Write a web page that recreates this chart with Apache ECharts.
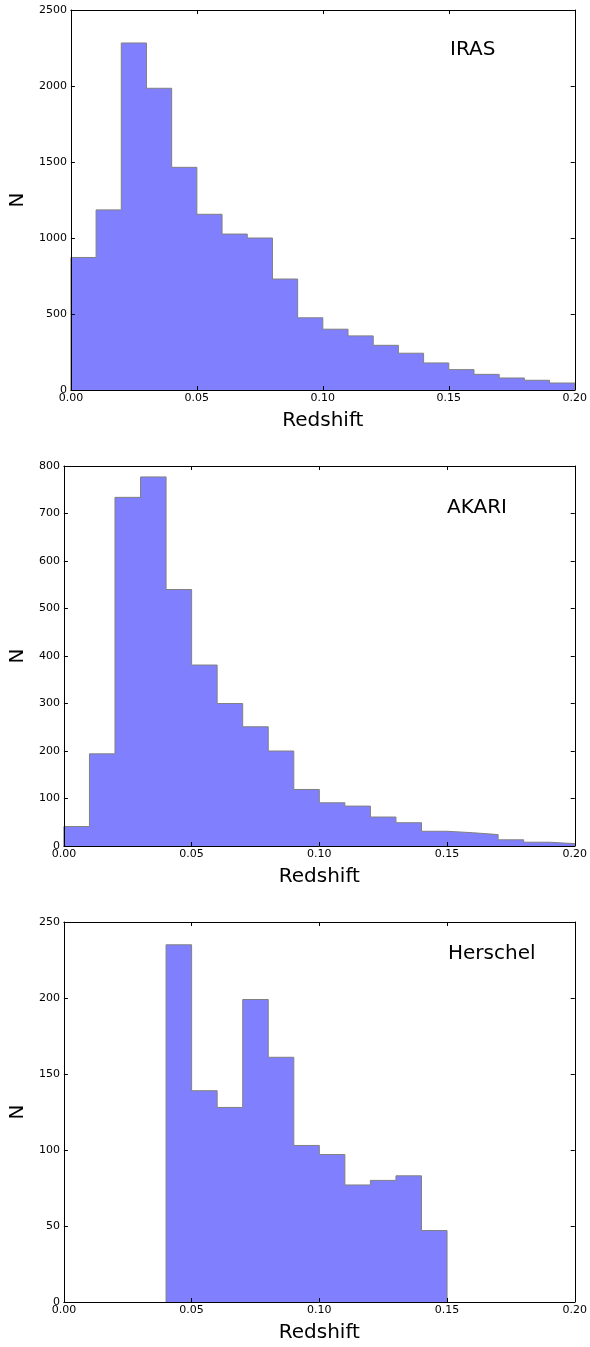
<!DOCTYPE html>
<html>
<head>
<meta charset="utf-8">
<title>Redshift distributions</title>
<script src="https://cdn.jsdelivr.net/npm/echarts@6/dist/echarts.min.js"></script>
<style>
  html, body { margin: 0; padding: 0; background: #ffffff; }
  #chart { width: 590px; height: 1347px; }
</style>
</head>
<body>
<div id="chart"></div>
<script>
// Bin edges shared by all three histograms (redshift, width 0.01)
const binEdges = [0.00, 0.01, 0.02, 0.03, 0.04, 0.05, 0.06, 0.07, 0.08, 0.09, 0.10,
                  0.11, 0.12, 0.13, 0.14, 0.15, 0.16, 0.17, 0.18, 0.19, 0.20];

// Counts per bin
const irasCounts = [872, 1185, 2283, 1985, 1465, 1156, 1026, 1000, 730, 475,
                    400, 356, 294, 242, 178, 134, 103, 79, 64, 46];
const akariCounts = [41, 194, 734, 777, 540, 381, 300, 251, 200, 119,
                     91, 84, 61, 49, 31, 28, 24, 13, 8, 5];
const herschelCounts = [0, 0, 0, 0, 235, 139, 128, 199, 161, 103,
                        97, 77, 80, 83, 47, 0, 0, 0, 0, 0];

const surveyNames = ['IRAS', 'AKARI', 'Herschel'];

// Y axis ranges and tick steps
const yMax = [2500, 800, 250];
const yStep = [500, 100, 50];

const FONT = 'DejaVu Sans';

// Convert histogram counts to a stepfilled outline (matplotlib 'stepfilled')
function stepOutline(counts) {
  const first = counts.findIndex(v => v > 0);
  let last = counts.length - 1;
  while (last >= 0 && counts[last] <= 0) last--;
  const pts = [[binEdges[first], 0]];
  for (let i = first; i <= last; i++) {
    pts.push([binEdges[i], counts[i]]);
  }
  pts.push([binEdges[last + 1], counts[last]]);
  pts.push([binEdges[last + 1], 0]);
  return pts;
}

const grids = [
  { left: 70, top: 10, width: 506, height: 380 },
  { left: 62, top: 466, width: 514, height: 380 },
  { left: 62, top: 922, width: 514, height: 380 }
];
const titlePos = [[450, 50], [447, 508], [448, 954]];
const allCounts = [irasCounts, akariCounts, herschelCounts];

const xAxes = [], yAxes = [], series = [], graphics = [];

grids.forEach((g, i) => {
  const common = {
    type: 'value', gridIndex: i, min: 0, max: 0.2, interval: 0.05, z: 5,
    axisLine: { show: true, onZero: false, lineStyle: { color: '#000', width: 1 } },
    axisTick: { show: true, inside: true, length: 4, lineStyle: { color: '#000', width: 1 } },
    splitLine: { show: false }
  };
  xAxes.push(Object.assign({}, common, {
    position: 'bottom',
    name: 'Redshift', nameLocation: 'middle', nameGap: 21,
    nameTextStyle: { fontFamily: FONT, fontSize: 20, color: '#000' },
    axisLabel: { show: true, margin: 3, fontFamily: FONT, fontSize: 11, color: '#000',
                 formatter: v => v.toFixed(2) }
  }));
  xAxes.push(Object.assign({}, common, {
    position: 'top', axisLabel: { show: false }
  }));

  const ycommon = {
    type: 'value', gridIndex: i, min: 0, max: yMax[i], interval: yStep[i], z: 5,
    axisLine: { show: true, onZero: false, lineStyle: { color: '#000', width: 1 } },
    axisTick: { show: true, inside: true, length: 4, lineStyle: { color: '#000', width: 1 } },
    splitLine: { show: false }
  };
  yAxes.push(Object.assign({}, ycommon, {
    position: 'left',
    name: 'N', nameLocation: 'middle', nameRotate: 90, nameGap: g.left - 28,
    nameTextStyle: { fontFamily: FONT, fontSize: 20, color: '#000' },
    axisLabel: { show: true, margin: 4, fontFamily: FONT, fontSize: 11, color: '#000',
                 formatter: v => String(v) }
  }));
  yAxes.push(Object.assign({}, ycommon, {
    position: 'right', axisLabel: { show: false }
  }));

  series.push({
    type: 'line',
    xAxisIndex: i * 2,
    yAxisIndex: i * 2,
    step: 'end',
    symbol: 'none',
    silent: true,
    animation: false,
    data: stepOutline(allCounts[i]),
    lineStyle: { color: '#808080', width: 1 },
    areaStyle: { color: '#8080ff', opacity: 1 },
    z: 2
  });

  graphics.push({
    type: 'text',
    x: titlePos[i][0],
    y: titlePos[i][1],
    style: {
      text: surveyNames[i],
      fontFamily: FONT,
      fontSize: 20,
      fill: '#000',
      verticalAlign: 'middle',
      align: 'left'
    }
  });
});

const chart = echarts.init(document.getElementById('chart'), null, { renderer: 'canvas' });
chart.setOption({
  animation: false,
  backgroundColor: '#ffffff',
  grid: grids,
  xAxis: xAxes,
  yAxis: yAxes,
  series: series,
  graphic: graphics
});
</script>
</body>
</html>
